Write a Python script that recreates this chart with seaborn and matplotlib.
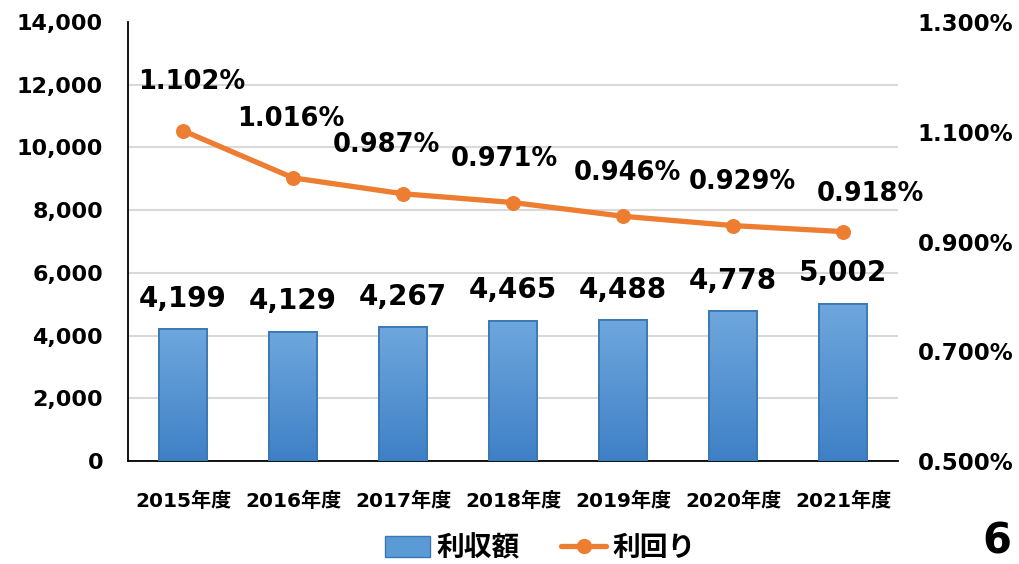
import matplotlib
matplotlib.use("Agg")
import matplotlib.pyplot as plt
import numpy as np
import pandas as pd
import seaborn as sns
from matplotlib.lines import Line2D
from matplotlib.patches import Patch
from matplotlib.ticker import FuncFormatter

years = ["2015年度", "2016年度", "2017年度", "2018年度", "2019年度", "2020年度", "2021年度"]
income = [4199, 4129, 4267, 4465, 4488, 4778, 5002]
rates = [1.102, 1.016, 0.987, 0.971, 0.946, 0.929, 0.918]

sns.set_style("white")
fonts = ["DejaVu Sans", "Noto Sans CJK JP"]
plt.rcParams["font.family"] = fonts
plt.rcParams["font.weight"] = "bold"
plt.rcParams["text.color"] = "black"
plt.rcParams["xtick.color"] = "black"
plt.rcParams["ytick.color"] = "black"

dat = pd.DataFrame({"year": years, "income": income, "rate": rates})

fig = plt.figure(figsize=(10.2, 5.64), dpi=100)
ax = fig.add_axes([0.1255, 0.1826, 0.755, 0.7784])

# bars
sns.barplot(data=dat, x="year", y="income", ax=ax, color="#5b9bd5", width=0.44,
            edgecolor="#3a78b5", linewidth=1.3, zorder=3)

# vertical gradient on each bar
grad = np.linspace(0, 1, 256).reshape(-1, 1)
cmap = matplotlib.colors.LinearSegmentedColormap.from_list("bar", ["#3f80c6", "#6ea7dd"])
for p in ax.patches:
    x0, y0 = p.get_x(), p.get_y()
    w, h = p.get_width(), p.get_height()
    im = ax.imshow(grad, cmap=cmap, aspect="auto", origin="lower",
                   extent=[x0, x0 + w, y0, y0 + h], zorder=3.5)
    im.set_clip_path(p)
    ax.add_patch(plt.Rectangle((x0, y0), w, h, fill=False, edgecolor="#3a78b5",
                               linewidth=1.3, zorder=3.6))

for i, v in enumerate(income):
    ax.annotate(f"{v:,}", (i, v), xytext=(0, 12), textcoords="offset points",
                ha="center", va="bottom", fontsize=20, fontweight="bold")

ax.set_xlim(-0.5, 6.5)
ax.set_ylim(0, 14000)
ax.set_yticks(range(0, 14001, 2000))
ax.yaxis.set_major_formatter(FuncFormatter(lambda v, _: f"{v:,.0f}"))
ax.yaxis.grid(True, color="#d9d9d9", linewidth=1.5, zorder=0)
ax.get_ygridlines()[-1].set_visible(False)
ax.set_axisbelow(True)
ax.set_xlabel("")
ax.set_ylabel("")
ax.tick_params(axis="y", labelsize=16, length=0, pad=18)
ax.tick_params(axis="x", labelsize=14.5, length=0, pad=22)
for lab in ax.get_xticklabels() + ax.get_yticklabels():
    lab.set_fontweight("bold")
for s in ["top", "right"]:
    ax.spines[s].set_visible(False)
ax.spines["left"].set_color("black")
ax.spines["bottom"].set_color("black")
ax.spines["left"].set_linewidth(1.3)
ax.spines["bottom"].set_linewidth(1.3)

# line on secondary axis
ax2 = ax.twinx()
sns.lineplot(x=np.arange(len(rates)), y=rates, ax=ax2, color="#ed7d31", linewidth=3.8,
             marker="o", markersize=10, markeredgecolor="#ed7d31", zorder=5)
ax2.set_ylim(0.5, 1.3)
ax2.set_yticks([0.5, 0.7, 0.9, 1.1, 1.3])
ax2.yaxis.set_major_formatter(FuncFormatter(lambda v, _: f"{v:.3f}%"))
ax2.tick_params(axis="y", labelsize=16.5, length=0, pad=14)
for lab in ax2.get_yticklabels():
    lab.set_fontweight("bold")
for s in ["top", "right", "left", "bottom"]:
    ax2.spines[s].set_visible(False)
ax2.set_ylabel("")

# label nudges (points) to keep the labels clear of the line
nudge = {0: (6, 26), 1: (-1.5, 33), 2: (-12, 26), 3: (-6, 22),
         4: (3.5, 22), 5: (6.5, 22), 6: (19.5, 18)}
for i, r in enumerate(rates):
    ax2.annotate(f"{r:.3f}%", (i, r), xytext=nudge[i], textcoords="offset points",
                 ha="center", va="bottom", fontsize=18.5, fontweight="bold")

handles = [Patch(facecolor="#5b9bd5", edgecolor="#3a78b5", label="利収額"),
           Line2D([0], [0], color="#ed7d31", linewidth=3.8, marker="o", markersize=10,
                  label="利回り")]
fig.legend(handles=handles, loc="center", bbox_to_anchor=(0.53, 0.028), ncol=2,
           frameon=False, prop={"size": 20, "weight": "bold", "family": fonts},
           handlelength=1.6, handleheight=0.8, columnspacing=1.5, handletextpad=0.25)

fig.text(0.992, 0.04, "6", ha="right", va="center", fontsize=30, fontweight="bold")

fig.savefig("out.png", dpi=100)
